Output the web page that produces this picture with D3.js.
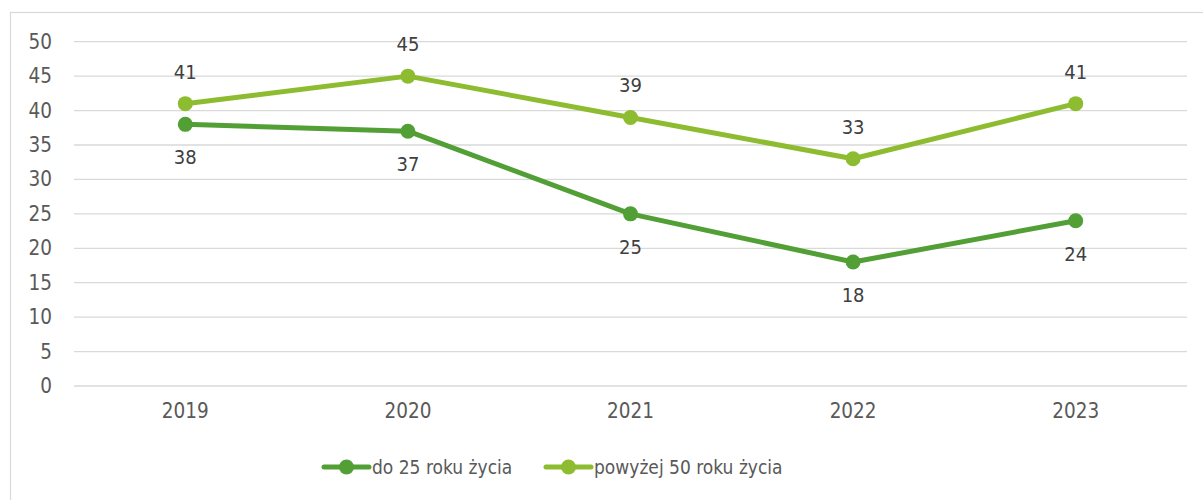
<!DOCTYPE html>
<html><head><meta charset="utf-8">
<script src="https://cdn.jsdelivr.net/npm/d3@7"></script>
<style>
html,body{margin:0;padding:0;background:#fff;}
svg{display:block;}
text{font-family:"DejaVu Sans Condensed","DejaVu Sans",sans-serif;}
</style></head>
<body>
<svg id="chart" width="1203" height="500"></svg>
<script>
const categories = ["2019","2020","2021","2022","2023"];
const seriesNames = ["do 25 roku życia","powyżej 50 roku życia"];
const seriesYoung = [38,37,25,18,24];
const seriesOld = [41,45,39,33,41];
const yTicks = [0,5,10,15,20,25,30,35,40,45,50];
const colors = ["#519f35","#8dbc30"];

const svg = d3.select("#chart");
const W = 1203, H = 500;
const plot = {left:74, right:1187, top:41.7, bottom:386};

// outer border
svg.append("rect").attr("x",10.5).attr("y",12.5).attr("width",1300).attr("height",600)
  .attr("fill","none").attr("stroke","#d9d9d9").attr("stroke-width",1.2);

const x = d3.scaleBand().domain(categories).range([plot.left, plot.right]);
const y = d3.scaleLinear().domain([0,50]).range([plot.bottom, plot.top]);

// gridlines
svg.append("g").selectAll("line").data(yTicks).join("line")
  .attr("x1",plot.left).attr("x2",plot.right)
  .attr("y1",d=>y(d)).attr("y2",d=>y(d))
  .attr("stroke","#d9d9d9").attr("stroke-width",1.3);

// y axis labels
const yAxis = d3.axisLeft(y).tickValues(yTicks).tickSize(0).tickPadding(0);
const gy = svg.append("g").attr("transform",`translate(${plot.left-22},0)`).call(yAxis);
gy.select(".domain").remove();
gy.selectAll("text").attr("font-size",20.5).attr("fill","#595959")
  .attr("font-family","DejaVu Sans Condensed");

// x axis labels
const xAxis = d3.axisBottom(x).tickSize(0).tickPadding(0);
const gx = svg.append("g").attr("transform",`translate(0,${plot.bottom+17})`).call(xAxis);
gx.select(".domain").remove();
gx.selectAll("text").attr("font-size",20.5).attr("fill","#595959")
  .attr("font-family","DejaVu Sans Condensed");

const cx = d => x(d) + x.bandwidth()/2;
const series = [
  {name:seriesNames[0], values:seriesYoung, color:colors[0], labelOffset:33},
  {name:seriesNames[1], values:seriesOld, color:colors[1], labelOffset:-32}
];
const line = d3.line().x(d=>cx(d.c)).y(d=>y(d.v));

series.forEach(s=>{
  const pts = categories.map((c,i)=>({c, v:s.values[i]}));
  const g = svg.append("g");
  g.append("path").datum(pts).attr("d",line).attr("fill","none")
    .attr("stroke",s.color).attr("stroke-width",5).attr("stroke-linejoin","round").attr("stroke-linecap","round");
  g.selectAll("circle").data(pts).join("circle")
    .attr("cx",d=>cx(d.c)).attr("cy",d=>y(d.v)).attr("r",7.5).attr("fill",s.color);
  g.selectAll("text").data(pts).join("text")
    .attr("x",d=>cx(d.c)).attr("y",d=>y(d.v)+s.labelOffset)
    .attr("text-anchor","middle").attr("dominant-baseline","central")
    .attr("font-size",20).attr("fill","#404040").text(d=>d.v);
});

// legend
const legendItems = [
  {name:seriesNames[0], color:colors[0], x:324},
  {name:seriesNames[1], color:colors[1], x:546}
];
const ly = 467;
const lg = svg.append("g");
legendItems.forEach(it=>{
  lg.append("line").attr("x1",it.x).attr("x2",it.x+45).attr("y1",ly).attr("y2",ly)
    .attr("stroke",it.color).attr("stroke-width",5).attr("stroke-linecap","round");
  lg.append("circle").attr("cx",it.x+22.5).attr("cy",ly).attr("r",7.5).attr("fill",it.color);
  lg.append("text").attr("x",it.x+48).attr("y",ly).attr("dominant-baseline","central")
    .attr("font-size",19).attr("fill","#595959").text(it.name);
});
</script>
</body></html>
